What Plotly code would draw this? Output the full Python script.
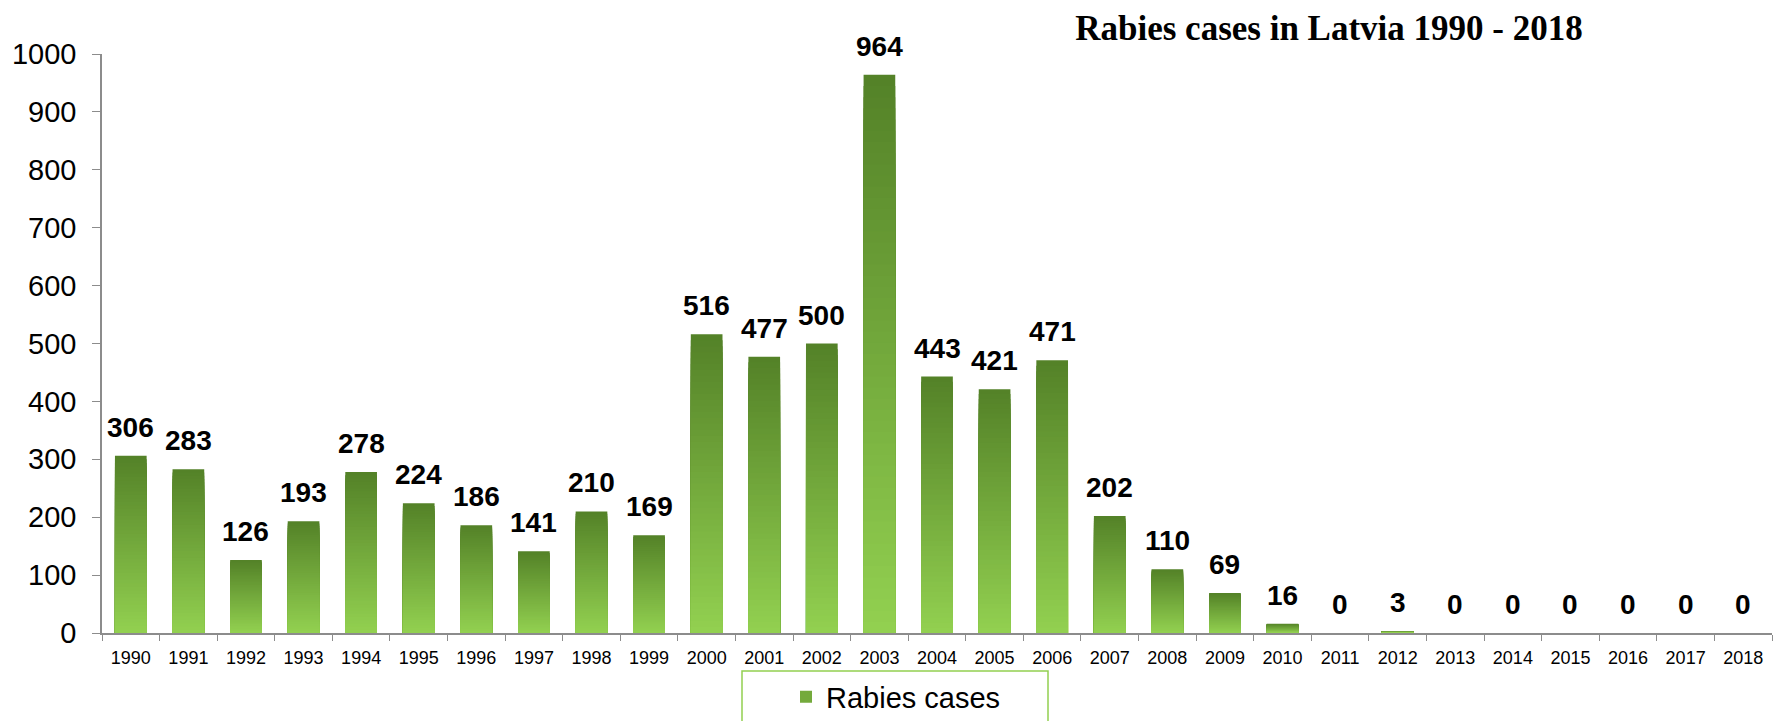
import plotly.graph_objects as go

years = [str(y) for y in range(1990, 2019)]
cases = [306, 283, 126, 193, 278, 224, 186, 141, 210, 169,
         516, 477, 500, 964, 443, 421, 471, 202, 110, 69,
         16, 0, 3, 0, 0, 0, 0, 0, 0]

title_text = "Rabies cases in Latvia 1990 - 2018"
legend_name = "Rabies cases"

W, H = 1783, 721
ML, MR, MT, MB = 102, 11, 54, 88
PW = W - ML - MR
PH = H - MT - MB

top_rgb = (84, 130, 40)
bot_rgb = (146, 208, 80)
N = 50


def mix(t):
    # t = 0 -> top colour, t = 1 -> bottom colour
    r = round(top_rgb[0] + (bot_rgb[0] - top_rgb[0]) * t)
    g = round(top_rgb[1] + (bot_rgb[1] - top_rgb[1]) * t)
    b = round(top_rgb[2] + (bot_rgb[2] - top_rgb[2]) * t)
    return f"rgb({r},{g},{b})"


fig = go.Figure()
# overlayed bars of decreasing height give a vertical gradient per bar
for k in range(N):
    frac = (N - k) / N
    fig.add_trace(go.Bar(
        x=years,
        y=[v * frac for v in cases],
        marker=dict(color=mix(k / (N - 1)), line=dict(width=0)),
        name=legend_name,
        showlegend=(k == N // 2),
        hoverinfo="skip" if k else "x+y",
    ))

annotations = []
for i, v in enumerate(cases):
    annotations.append(dict(
        x=i, y=v, xref="x", yref="y", text=str(v), showarrow=False,
        yanchor="bottom", yshift=11,
        font=dict(family="Liberation Sans", size=28, color="black", weight="bold"),
    ))

def px_x(p):
    return (p - ML) / PW

def px_y(p):
    return (H - MB - p) / PH

fig.update_layout(
    width=W, height=H,
    margin=dict(l=ML, r=MR, t=MT, b=MB, autoexpand=False),
    paper_bgcolor="white", plot_bgcolor="white",
    barmode="overlay", bargap=0.45,
    title=dict(
        text=title_text, xref="paper", x=px_x(1329), xanchor="center",
        yref="container", y=1 - 28 / H, yanchor="middle",
        font=dict(family="Liberation Serif", size=35, color="black", weight="bold"),
    ),
    xaxis=dict(
        type="category", categoryorder="array", categoryarray=years,
        range=[-0.5, len(years) - 0.5], autorange=False,
        showline=True, linecolor="#8c8c8c", linewidth=1.5,
        ticks="outside", ticklen=6, tickcolor="#8c8c8c", tickson="boundaries",
        showgrid=False, ticklabelstandoff=8, tickangle=0,
        tickfont=dict(family="Liberation Sans", size=18, color="black"),
    ),
    yaxis=dict(
        range=[0, 1000], dtick=100, showline=True, linecolor="#8c8c8c",
        linewidth=1.5, ticks="outside", ticklen=8, tickcolor="#8c8c8c",
        showgrid=False, zeroline=False, ticklabelstandoff=10,
        tickfont=dict(family="Liberation Sans", size=29, color="black"),
    ),
    showlegend=True,
    legend=dict(
        x=px_x(786), xanchor="left", y=px_y(697), yanchor="middle",
        xref="paper", yref="paper", borderwidth=0, bgcolor="rgba(0,0,0,0)",
        font=dict(family="Liberation Sans", size=29, color="black"),
    ),
    annotations=annotations,
    shapes=[dict(
        type="rect", xref="paper", yref="paper",
        x0=px_x(742), x1=px_x(1048), y0=px_y(745), y1=px_y(671),
        line=dict(color="#92D050", width=1.5), fillcolor="rgba(0,0,0,0)",
        layer="below",
    )],
)

fig.write_html(
    "out.html",
    config={"displayModeBar": False},
    post_script="document.body.style.margin='0';document.body.style.overflow='hidden';",
)
